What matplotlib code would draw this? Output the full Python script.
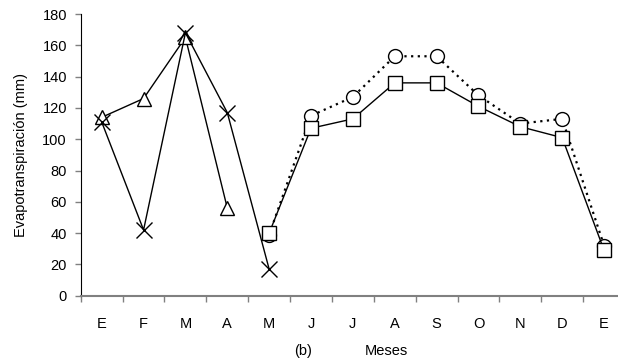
import matplotlib
matplotlib.use("Agg")
import matplotlib.pyplot as plt
import numpy as np

# Month labels (January to January)
months = ["E", "F", "M", "A", "M", "J", "J", "A", "S", "O", "N", "D", "E"]

# Series (mm)
cross_vals = [111, 42, 168, 117, 17]
triangle_vals = [114, 126, 165, 56]
circle_vals = [39, 115, 127, 153, 153, 128, 110, 113, 32]
square_vals = [40, 107, 113, 136, 136, 121, 108, 101, 29]

x = np.arange(len(months))

plt.rcParams["font.family"] = ["Liberation Sans", "DejaVu Sans"]
fig = plt.figure(figsize=(6.18, 3.64), dpi=100)
ax = fig.add_axes([0.1307, 0.1876, 0.8806, 0.7739])

mk = dict(markerfacecolor="white", markeredgecolor="black", markeredgewidth=1, color="black")

ax.plot(x[:4], triangle_vals, marker="^", markersize=10.5, lw=1, zorder=3, **mk)
ax.plot(x[:5], cross_vals, marker="x", markersize=11, lw=1, zorder=4, **mk)
ax.plot(x[4:], circle_vals, marker="o", markersize=10, lw=1.6,
        linestyle=(0, (1, 2)), zorder=5, **mk)
ax.plot(x[4:], square_vals, marker="s", markersize=10, lw=1, zorder=6, **mk)

ax.set_xlim(-0.5, 12.5)
ax.set_ylim(0, 180)
ax.set_yticks(np.arange(0, 181, 20))

# category boundaries as tick marks, labels centered in between
ax.set_xticks(np.arange(-0.5, 13, 1))
ax.set_xticklabels([])
ax.set_xticks(x, minor=True)
ax.set_xticklabels(months, minor=True)
ax.tick_params(axis="x", which="minor", length=0, pad=15, labelsize=10.5)
ax.tick_params(axis="x", which="major", length=4, color="#808080", width=1)
ax.tick_params(axis="y", length=4, color="#808080", width=1, labelsize=10.5, pad=6)

for s in ["top", "right"]:
    ax.spines[s].set_visible(False)
ax.spines["left"].set_color("black")
ax.spines["bottom"].set_color("#808080")
ax.spines["bottom"].set_linewidth(1.5)

ax.set_ylabel("Evapotranspiración (mm)", fontsize=10.5, labelpad=10)

fig.text(303 / 618, 1 - 351 / 364, "(b)", ha="center", va="center", fontsize=10.5)
fig.text(386 / 618, 1 - 351 / 364, "Meses", ha="center", va="center", fontsize=10.5)

fig.savefig("out.png", dpi=100)
